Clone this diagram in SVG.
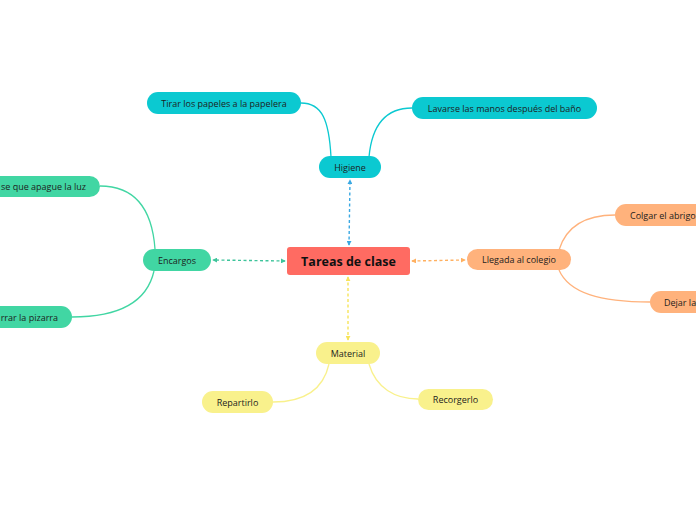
<svg xmlns="http://www.w3.org/2000/svg" width="696" height="520" viewBox="0 0 696 520">
<defs>
<style>
.t{font-family:"Open Sans","Noto Sans","DejaVu Sans",sans-serif;font-size:9px;fill:#1d1d1d;dominant-baseline:central}
.c{text-anchor:middle}
.main{font-family:"Open Sans","Noto Sans","DejaVu Sans",sans-serif;font-size:12.5px;font-weight:bold;fill:#111;text-anchor:middle;dominant-baseline:central}
.cy{fill:#0bc9d1}.gr{fill:#41d6a3}.or{fill:#ffb27c}.ye{fill:#f9f18c}
.l{fill:none;stroke-width:1.3}
.d{fill:none;stroke-width:1.4;stroke-dasharray:3 2.5}
</style>
<marker id="mb" viewBox="0 0 6 6" refX="5" refY="3" markerWidth="5" markerHeight="5" orient="auto-start-reverse" markerUnits="userSpaceOnUse"><path d="M0,0 L6,3 L0,6 z" fill="#3aa8e2"/></marker>
<marker id="mg" viewBox="0 0 6 6" refX="5" refY="3" markerWidth="5" markerHeight="5" orient="auto-start-reverse" markerUnits="userSpaceOnUse"><path d="M0,0 L6,3 L0,6 z" fill="#3ec49b"/></marker>
<marker id="mo" viewBox="0 0 6 6" refX="5" refY="3" markerWidth="5" markerHeight="5" orient="auto-start-reverse" markerUnits="userSpaceOnUse"><path d="M0,0 L6,3 L0,6 z" fill="#ffb060"/></marker>
<marker id="my" viewBox="0 0 6 6" refX="5" refY="3" markerWidth="5" markerHeight="5" orient="auto-start-reverse" markerUnits="userSpaceOnUse"><path d="M0,0 L6,3 L0,6 z" fill="#f7e45a"/></marker>
</defs>
<rect width="696" height="520" fill="#fff"/>
<g id="connectors">
<path class="d" stroke="#3aa8e2" d="M349,245 L350,180" marker-start="url(#mb)" marker-end="url(#mb)"/>
<path class="d" stroke="#3ec49b" d="M285,261 L213,260" marker-start="url(#mg)" marker-end="url(#mg)"/>
<path class="d" stroke="#ffb060" d="M412,261 L465,260" marker-start="url(#mo)" marker-end="url(#mo)"/>
<path class="d" stroke="#f7e45a" d="M348,277 L348,340" marker-start="url(#my)" marker-end="url(#my)"/>
<path class="l" stroke="#0bc9d1" d="M331,157 C329,120 322,103 301,103"/>
<path class="l" stroke="#0bc9d1" d="M369,157 C372,124 386,108 412,108"/>
<path class="l" stroke="#41d6a3" d="M155,249 C152,208 134,186 100,186"/>
<path class="l" stroke="#41d6a3" d="M154,271 C147,302 118,317 72,317"/>
<path class="l" stroke="#ffb27c" d="M559,250 C566,227 585,215 615,215"/>
<path class="l" stroke="#ffb27c" d="M559,270 C569,293 600,302 650,302"/>
<path class="l" stroke="#f9f18c" d="M329,364 C323,391 302,402 273,402"/>
<path class="l" stroke="#f9f18c" d="M369,364 C376,388 395,399 418,399"/>
</g>
<g id="n-main"><rect x="287" y="247" width="123" height="28" rx="3" fill="#ff6b62"/><text class="main" x="348.5" y="261">Tareas de clase</text></g>
<g id="n-higiene"><rect class="cy" x="319" y="156" width="62" height="22" rx="11"/><text class="t c" x="350" y="167">Higiene</text></g>
<g id="n-tirar"><rect class="cy" x="147" y="92" width="154" height="22" rx="11"/><text class="t c" x="224" y="103">Tirar los papeles a la papelera</text></g>
<g id="n-lavarse"><rect class="cy" x="412" y="97" width="185" height="22" rx="11"/><text class="t c" x="504.5" y="108">Lavarse las manos después del baño</text></g>
<g id="n-encargos"><rect class="gr" x="143" y="249" width="68" height="22" rx="11"/><text class="t c" x="177" y="260">Encargos</text></g>
<g id="n-luz"><rect class="gr" x="-60" y="176" width="160" height="21" rx="10.5"/><text class="t" x="86" y="186.5" text-anchor="end">se que apague la luz</text></g>
<g id="n-pizarra"><rect class="gr" x="-40" y="306" width="112" height="22" rx="11"/><text class="t" x="58" y="317" text-anchor="end">rrar la pizarra</text></g>
<g id="n-llegada"><rect class="or" x="467" y="249" width="104" height="21" rx="10.5"/><text class="t c" x="519" y="259.5">Llegada al colegio</text></g>
<g id="n-colgar"><rect class="or" x="615" y="204" width="120" height="22" rx="11"/><text class="t" x="630" y="215">Colgar el abrigo</text></g>
<g id="n-dejar"><rect class="or" x="650" y="291" width="120" height="22" rx="11"/><text class="t" x="664" y="302">Dejar la</text></g>
<g id="n-material"><rect class="ye" x="316" y="342" width="64" height="22" rx="11"/><text class="t c" x="348" y="353">Material</text></g>
<g id="n-repartirlo"><rect class="ye" x="202" y="391" width="71" height="22" rx="11"/><text class="t c" x="237.5" y="402">Repartirlo</text></g>
<g id="n-recorgerlo"><rect class="ye" x="418" y="389" width="75" height="21" rx="10.5"/><text class="t c" x="455.5" y="399.5">Recorgerlo</text></g>
</svg>
